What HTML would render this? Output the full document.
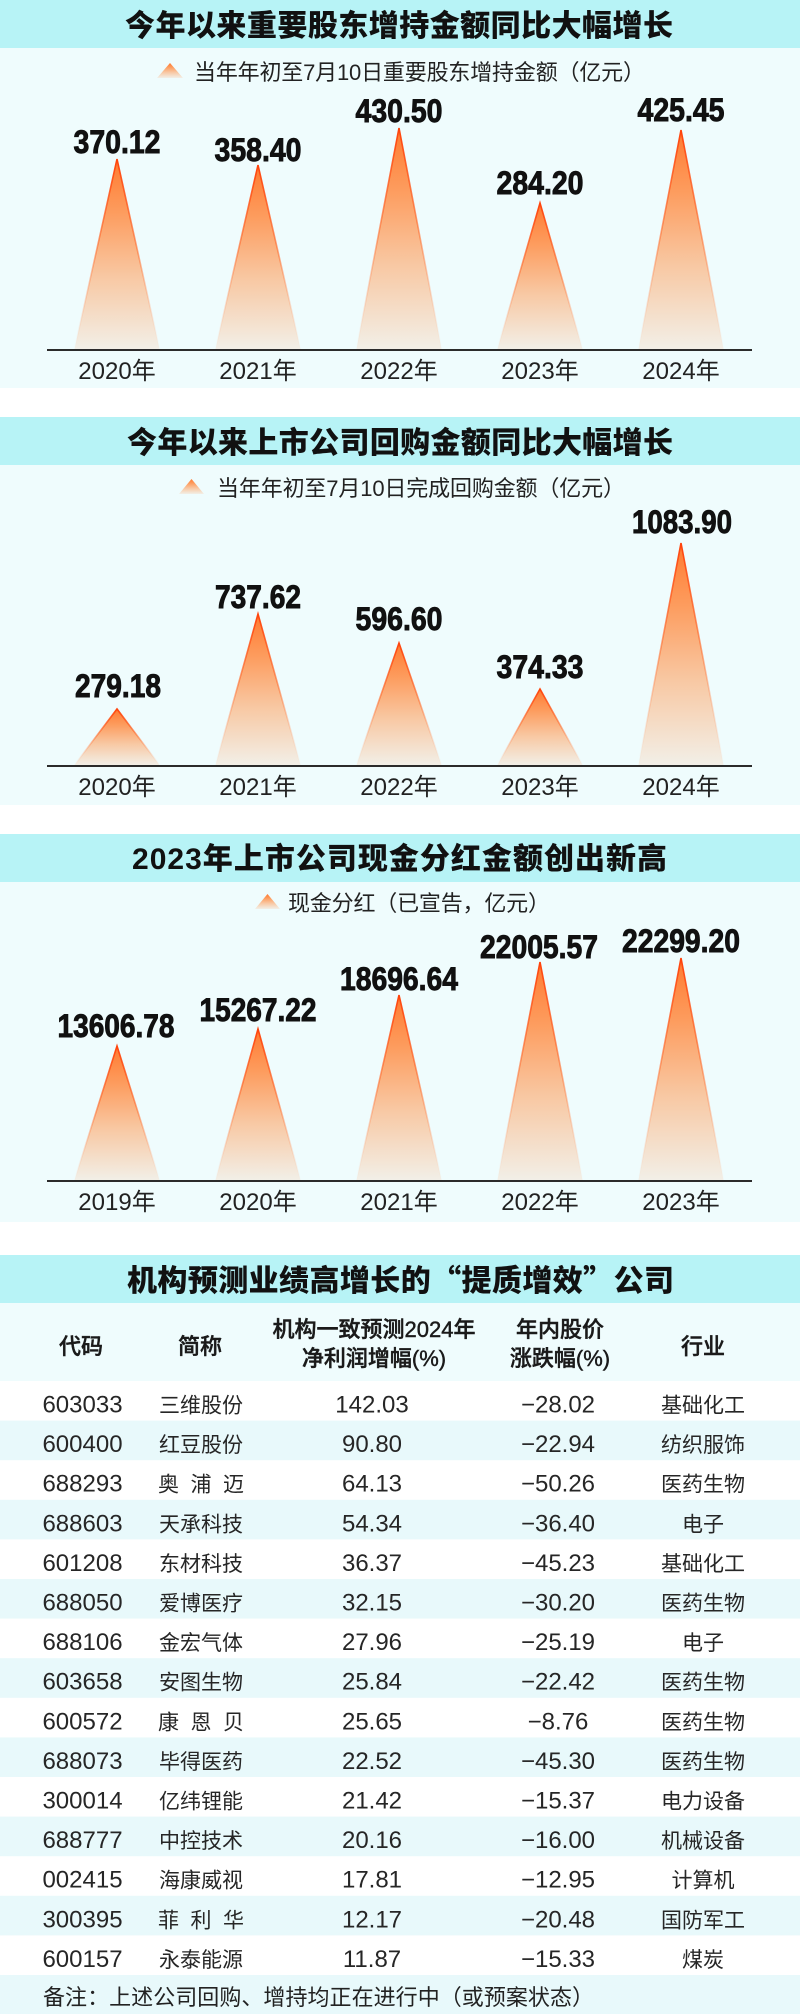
<!DOCTYPE html>
<html>
<head>
<meta charset="utf-8">
<style>
  html,body{margin:0;padding:0;background:#ffffff;}
  body{width:800px;height:2016px;overflow:hidden;}
  svg{display:block;}
  .ttl{font-family:"Liberation Sans","Noto Sans CJK SC",sans-serif;font-weight:900;font-size:30px;fill:#111;}
  .q{font-family:"Noto Sans CJK SC",sans-serif;}
  .lg{font-family:"Liberation Sans","Noto Sans CJK SC",sans-serif;font-size:22px;fill:#222;}
  .yr{font-family:"Liberation Sans","Noto Sans CJK SC",sans-serif;font-size:24px;fill:#222;}
  .val{font-family:"Liberation Sans Narrow","Liberation Sans",sans-serif;font-weight:bold;font-size:32px;fill:#111;stroke:#111;stroke-width:0.9px;}
  .hd{font-family:"Liberation Sans","Noto Sans CJK SC",sans-serif;font-size:22px;font-weight:500;fill:#1a1a1a;stroke:#1a1a1a;stroke-width:0.45px;}
  .num{font-family:"Liberation Sans",sans-serif;font-size:24px;fill:#262626;}
  .cj{font-family:"Liberation Sans","Noto Sans CJK SC",sans-serif;font-size:21px;fill:#262626;}
  .note{font-family:"Liberation Sans","Noto Sans CJK SC",sans-serif;font-size:22px;fill:#222;}
</style>
</head>
<body>
<svg width="800" height="2016" viewBox="0 0 800 2016" xmlns="http://www.w3.org/2000/svg">
  <defs>
    <linearGradient id="tf" x1="0" y1="0" x2="0" y2="1">
      <stop offset="0" stop-color="#ff7a30"/>
      <stop offset="0.28" stop-color="#fd9c5e"/>
      <stop offset="0.62" stop-color="#f8c8a3"/>
      <stop offset="1" stop-color="#f2efe7"/>
    </linearGradient>
    <linearGradient id="ts" x1="0" y1="0" x2="0" y2="1">
      <stop offset="0" stop-color="#ff420a" stop-opacity="1"/>
      <stop offset="0.5" stop-color="#ff6a2a" stop-opacity="0.55"/>
      <stop offset="1" stop-color="#ffb089" stop-opacity="0"/>
    </linearGradient>
  </defs>

  <!-- ============ Section 1 ============ -->
  <rect x="0" y="0" width="800" height="48" fill="#b7f3f6"/>
  <rect x="0" y="48" width="800" height="340" fill="#effcfd"/>
  <text class="ttl" x="399" y="36" text-anchor="middle" textLength="548" lengthAdjust="spacing">今年以来重要股东增持金额同比大幅增长</text>
  <polygon points="157,78 170,63 183,78" fill="url(#tf)"/>
  <text class="lg" x="194" y="80" textLength="451" lengthAdjust="spacing">当年年初至7月10日重要股东增持金额（亿元）</text>

  <g>
    <polygon points="74.5,349 117,159 159.5,349" fill="url(#tf)"/>
    <polyline points="74.5,349 117,159 159.5,349" fill="none" stroke="url(#ts)" stroke-width="1.6"/>
    <polygon points="215.5,349 258,165 300.5,349" fill="url(#tf)"/>
    <polyline points="215.5,349 258,165 300.5,349" fill="none" stroke="url(#ts)" stroke-width="1.6"/>
    <polygon points="356.5,349 399,128 441.5,349" fill="url(#tf)"/>
    <polyline points="356.5,349 399,128 441.5,349" fill="none" stroke="url(#ts)" stroke-width="1.6"/>
    <polygon points="497.5,349 540,203 582.5,349" fill="url(#tf)"/>
    <polyline points="497.5,349 540,203 582.5,349" fill="none" stroke="url(#ts)" stroke-width="1.6"/>
    <polygon points="638.5,349 681,130 723.5,349" fill="url(#tf)"/>
    <polyline points="638.5,349 681,130 723.5,349" fill="none" stroke="url(#ts)" stroke-width="1.6"/>
  </g>
  <line x1="47" y1="350" x2="752" y2="350" stroke="#2b2b2b" stroke-width="2"/>
  <text class="val" x="117" y="153" text-anchor="middle" textLength="87" lengthAdjust="spacingAndGlyphs">370.12</text>
  <text class="val" x="258" y="161" text-anchor="middle" textLength="87" lengthAdjust="spacingAndGlyphs">358.40</text>
  <text class="val" x="399" y="122" text-anchor="middle" textLength="87" lengthAdjust="spacingAndGlyphs">430.50</text>
  <text class="val" x="540" y="194" text-anchor="middle" textLength="87" lengthAdjust="spacingAndGlyphs">284.20</text>
  <text class="val" x="681" y="121" text-anchor="middle" textLength="87" lengthAdjust="spacingAndGlyphs">425.45</text>
  <text class="yr" x="117" y="379" text-anchor="middle">2020年</text>
  <text class="yr" x="258" y="379" text-anchor="middle">2021年</text>
  <text class="yr" x="399" y="379" text-anchor="middle">2022年</text>
  <text class="yr" x="540" y="379" text-anchor="middle">2023年</text>
  <text class="yr" x="681" y="379" text-anchor="middle">2024年</text>

  <!-- ============ Section 2 ============ -->
  <rect x="0" y="417" width="800" height="48" fill="#b7f3f6"/>
  <rect x="0" y="465" width="800" height="340" fill="#effcfd"/>
  <text class="ttl" x="400" y="453" text-anchor="middle" textLength="546" lengthAdjust="spacing">今年以来上市公司回购金额同比大幅增长</text>
  <polygon points="179,494 191.5,479 204,494" fill="url(#tf)"/>
  <text class="lg" x="217" y="496" textLength="408" lengthAdjust="spacing">当年年初至7月10日完成回购金额（亿元）</text>

  <g>
    <polygon points="74.5,765 117,709 159.5,765" fill="url(#tf)"/>
    <polyline points="74.5,765 117,709 159.5,765" fill="none" stroke="url(#ts)" stroke-width="1.6"/>
    <polygon points="215.5,765 258,614 300.5,765" fill="url(#tf)"/>
    <polyline points="215.5,765 258,614 300.5,765" fill="none" stroke="url(#ts)" stroke-width="1.6"/>
    <polygon points="356.5,765 399,643 441.5,765" fill="url(#tf)"/>
    <polyline points="356.5,765 399,643 441.5,765" fill="none" stroke="url(#ts)" stroke-width="1.6"/>
    <polygon points="497.5,765 540,689 582.5,765" fill="url(#tf)"/>
    <polyline points="497.5,765 540,689 582.5,765" fill="none" stroke="url(#ts)" stroke-width="1.6"/>
    <polygon points="638.5,765 681,543 723.5,765" fill="url(#tf)"/>
    <polyline points="638.5,765 681,543 723.5,765" fill="none" stroke="url(#ts)" stroke-width="1.6"/>
  </g>
  <line x1="47" y1="766" x2="752" y2="766" stroke="#2b2b2b" stroke-width="2"/>
  <text class="val" x="118" y="697" text-anchor="middle" textLength="86" lengthAdjust="spacingAndGlyphs">279.18</text>
  <text class="val" x="258" y="608" text-anchor="middle" textLength="86" lengthAdjust="spacingAndGlyphs">737.62</text>
  <text class="val" x="399" y="630" text-anchor="middle" textLength="87" lengthAdjust="spacingAndGlyphs">596.60</text>
  <text class="val" x="540" y="678" text-anchor="middle" textLength="87" lengthAdjust="spacingAndGlyphs">374.33</text>
  <text class="val" x="682" y="533" text-anchor="middle" textLength="100" lengthAdjust="spacingAndGlyphs">1083.90</text>
  <text class="yr" x="117" y="795" text-anchor="middle">2020年</text>
  <text class="yr" x="258" y="795" text-anchor="middle">2021年</text>
  <text class="yr" x="399" y="795" text-anchor="middle">2022年</text>
  <text class="yr" x="540" y="795" text-anchor="middle">2023年</text>
  <text class="yr" x="681" y="795" text-anchor="middle">2024年</text>

  <!-- ============ Section 3 ============ -->
  <rect x="0" y="834" width="800" height="48" fill="#b7f3f6"/>
  <rect x="0" y="882" width="800" height="340" fill="#effcfd"/>
  <text class="ttl" x="399.5" y="869" text-anchor="middle" textLength="535" lengthAdjust="spacing">2023年上市公司现金分红金额创出新高</text>
  <polygon points="255,909 267.5,894 280,909" fill="url(#tf)"/>
  <text class="lg" x="288" y="911" textLength="262" lengthAdjust="spacing">现金分红（已宣告，亿元）</text>

  <g>
    <polygon points="74.5,1180 117,1046 159.5,1180" fill="url(#tf)"/>
    <polyline points="74.5,1180 117,1046 159.5,1180" fill="none" stroke="url(#ts)" stroke-width="1.6"/>
    <polygon points="215.5,1180 258,1029 300.5,1180" fill="url(#tf)"/>
    <polyline points="215.5,1180 258,1029 300.5,1180" fill="none" stroke="url(#ts)" stroke-width="1.6"/>
    <polygon points="356.5,1180 399,995 441.5,1180" fill="url(#tf)"/>
    <polyline points="356.5,1180 399,995 441.5,1180" fill="none" stroke="url(#ts)" stroke-width="1.6"/>
    <polygon points="497.5,1180 540,962 582.5,1180" fill="url(#tf)"/>
    <polyline points="497.5,1180 540,962 582.5,1180" fill="none" stroke="url(#ts)" stroke-width="1.6"/>
    <polygon points="638.5,1180 681,958 723.5,1180" fill="url(#tf)"/>
    <polyline points="638.5,1180 681,958 723.5,1180" fill="none" stroke="url(#ts)" stroke-width="1.6"/>
  </g>
  <line x1="47" y1="1181" x2="752" y2="1181" stroke="#2b2b2b" stroke-width="2"/>
  <text class="val" x="116" y="1037" text-anchor="middle" textLength="117" lengthAdjust="spacingAndGlyphs">13606.78</text>
  <text class="val" x="258" y="1021" text-anchor="middle" textLength="117" lengthAdjust="spacingAndGlyphs">15267.22</text>
  <text class="val" x="399" y="990" text-anchor="middle" textLength="118" lengthAdjust="spacingAndGlyphs">18696.64</text>
  <text class="val" x="539" y="958" text-anchor="middle" textLength="118" lengthAdjust="spacingAndGlyphs">22005.57</text>
  <text class="val" x="681" y="952" text-anchor="middle" textLength="118" lengthAdjust="spacingAndGlyphs">22299.20</text>
  <text class="yr" x="117" y="1210" text-anchor="middle">2019年</text>
  <text class="yr" x="258" y="1210" text-anchor="middle">2020年</text>
  <text class="yr" x="399" y="1210" text-anchor="middle">2021年</text>
  <text class="yr" x="540" y="1210" text-anchor="middle">2022年</text>
  <text class="yr" x="681" y="1210" text-anchor="middle">2023年</text>

  <!-- ============ Section 4: table ============ -->
  <rect x="0" y="1255" width="800" height="48" fill="#b7f3f6"/>
  <rect x="0" y="1303" width="800" height="78" fill="#effcfd"/>
  <text class="ttl" x="400.5" y="1291" text-anchor="middle" textLength="547" lengthAdjust="spacing">机构预测业绩高增长的<tspan class="q">“</tspan>提质增效<tspan class="q">”</tspan>公司</text>

  <text class="hd" x="81" y="1354" text-anchor="middle">代码</text>
  <text class="hd" x="200" y="1354" text-anchor="middle">简称</text>
  <text class="hd" x="374" y="1337" text-anchor="middle">机构一致预测2024年</text>
  <text class="hd" x="374" y="1366" text-anchor="middle">净利润增幅(%)</text>
  <text class="hd" x="560" y="1337" text-anchor="middle">年内股价</text>
  <text class="hd" x="560" y="1366" text-anchor="middle">涨跌幅(%)</text>
  <text class="hd" x="703" y="1354" text-anchor="middle">行业</text>

  <!-- tinted rows -->
  <rect x="0" y="1420.6" width="800" height="39.6" fill="#e8f9fb"/>
  <rect x="0" y="1499.8" width="800" height="39.6" fill="#e8f9fb"/>
  <rect x="0" y="1579" width="800" height="39.6" fill="#e8f9fb"/>
  <rect x="0" y="1658.2" width="800" height="39.6" fill="#e8f9fb"/>
  <rect x="0" y="1737.4" width="800" height="39.6" fill="#e8f9fb"/>
  <rect x="0" y="1816.6" width="800" height="39.6" fill="#e8f9fb"/>
  <rect x="0" y="1895.8" width="800" height="39.6" fill="#e8f9fb"/>
  <rect x="0" y="1975" width="800" height="39" fill="#e8f9fb"/>

  <g>
    <text class="num" x="82.5" y="1412.5" text-anchor="middle">603033</text>
    <text class="cj" x="201" y="1412.5" text-anchor="middle">三维股份</text>
    <text class="num" x="372" y="1412.5" text-anchor="middle">142.03</text>
    <text class="num" x="558" y="1412.5" text-anchor="middle">−28.02</text>
    <text class="cj" x="703" y="1412.5" text-anchor="middle">基础化工</text>

    <text class="num" x="82.5" y="1452.1" text-anchor="middle">600400</text>
    <text class="cj" x="201" y="1452.1" text-anchor="middle">红豆股份</text>
    <text class="num" x="372" y="1452.1" text-anchor="middle">90.80</text>
    <text class="num" x="558" y="1452.1" text-anchor="middle">−22.94</text>
    <text class="cj" x="703" y="1452.1" text-anchor="middle">纺织服饰</text>

    <text class="num" x="82.5" y="1491.7" text-anchor="middle">688293</text>
    <text class="cj" x="168.5 201 233.5" y="1491.7" text-anchor="middle">奥浦迈</text>
    <text class="num" x="372" y="1491.7" text-anchor="middle">64.13</text>
    <text class="num" x="558" y="1491.7" text-anchor="middle">−50.26</text>
    <text class="cj" x="703" y="1491.7" text-anchor="middle">医药生物</text>

    <text class="num" x="82.5" y="1531.3" text-anchor="middle">688603</text>
    <text class="cj" x="201" y="1531.3" text-anchor="middle">天承科技</text>
    <text class="num" x="372" y="1531.3" text-anchor="middle">54.34</text>
    <text class="num" x="558" y="1531.3" text-anchor="middle">−36.40</text>
    <text class="cj" x="703" y="1531.3" text-anchor="middle">电子</text>

    <text class="num" x="82.5" y="1570.9" text-anchor="middle">601208</text>
    <text class="cj" x="201" y="1570.9" text-anchor="middle">东材科技</text>
    <text class="num" x="372" y="1570.9" text-anchor="middle">36.37</text>
    <text class="num" x="558" y="1570.9" text-anchor="middle">−45.23</text>
    <text class="cj" x="703" y="1570.9" text-anchor="middle">基础化工</text>

    <text class="num" x="82.5" y="1610.5" text-anchor="middle">688050</text>
    <text class="cj" x="201" y="1610.5" text-anchor="middle">爱博医疗</text>
    <text class="num" x="372" y="1610.5" text-anchor="middle">32.15</text>
    <text class="num" x="558" y="1610.5" text-anchor="middle">−30.20</text>
    <text class="cj" x="703" y="1610.5" text-anchor="middle">医药生物</text>

    <text class="num" x="82.5" y="1650.1" text-anchor="middle">688106</text>
    <text class="cj" x="201" y="1650.1" text-anchor="middle">金宏气体</text>
    <text class="num" x="372" y="1650.1" text-anchor="middle">27.96</text>
    <text class="num" x="558" y="1650.1" text-anchor="middle">−25.19</text>
    <text class="cj" x="703" y="1650.1" text-anchor="middle">电子</text>

    <text class="num" x="82.5" y="1689.7" text-anchor="middle">603658</text>
    <text class="cj" x="201" y="1689.7" text-anchor="middle">安图生物</text>
    <text class="num" x="372" y="1689.7" text-anchor="middle">25.84</text>
    <text class="num" x="558" y="1689.7" text-anchor="middle">−22.42</text>
    <text class="cj" x="703" y="1689.7" text-anchor="middle">医药生物</text>

    <text class="num" x="82.5" y="1729.3" text-anchor="middle">600572</text>
    <text class="cj" x="168.5 201 233.5" y="1729.3" text-anchor="middle">康恩贝</text>
    <text class="num" x="372" y="1729.3" text-anchor="middle">25.65</text>
    <text class="num" x="558" y="1729.3" text-anchor="middle">−8.76</text>
    <text class="cj" x="703" y="1729.3" text-anchor="middle">医药生物</text>

    <text class="num" x="82.5" y="1768.9" text-anchor="middle">688073</text>
    <text class="cj" x="201" y="1768.9" text-anchor="middle">毕得医药</text>
    <text class="num" x="372" y="1768.9" text-anchor="middle">22.52</text>
    <text class="num" x="558" y="1768.9" text-anchor="middle">−45.30</text>
    <text class="cj" x="703" y="1768.9" text-anchor="middle">医药生物</text>

    <text class="num" x="82.5" y="1808.5" text-anchor="middle">300014</text>
    <text class="cj" x="201" y="1808.5" text-anchor="middle">亿纬锂能</text>
    <text class="num" x="372" y="1808.5" text-anchor="middle">21.42</text>
    <text class="num" x="558" y="1808.5" text-anchor="middle">−15.37</text>
    <text class="cj" x="703" y="1808.5" text-anchor="middle">电力设备</text>

    <text class="num" x="82.5" y="1848.1" text-anchor="middle">688777</text>
    <text class="cj" x="201" y="1848.1" text-anchor="middle">中控技术</text>
    <text class="num" x="372" y="1848.1" text-anchor="middle">20.16</text>
    <text class="num" x="558" y="1848.1" text-anchor="middle">−16.00</text>
    <text class="cj" x="703" y="1848.1" text-anchor="middle">机械设备</text>

    <text class="num" x="82.5" y="1887.7" text-anchor="middle">002415</text>
    <text class="cj" x="201" y="1887.7" text-anchor="middle">海康威视</text>
    <text class="num" x="372" y="1887.7" text-anchor="middle">17.81</text>
    <text class="num" x="558" y="1887.7" text-anchor="middle">−12.95</text>
    <text class="cj" x="703" y="1887.7" text-anchor="middle">计算机</text>

    <text class="num" x="82.5" y="1927.3" text-anchor="middle">300395</text>
    <text class="cj" x="168.5 201 233.5" y="1927.3" text-anchor="middle">菲利华</text>
    <text class="num" x="372" y="1927.3" text-anchor="middle">12.17</text>
    <text class="num" x="558" y="1927.3" text-anchor="middle">−20.48</text>
    <text class="cj" x="703" y="1927.3" text-anchor="middle">国防军工</text>

    <text class="num" x="82.5" y="1966.9" text-anchor="middle">600157</text>
    <text class="cj" x="201" y="1966.9" text-anchor="middle">永泰能源</text>
    <text class="num" x="372" y="1966.9" text-anchor="middle">11.87</text>
    <text class="num" x="558" y="1966.9" text-anchor="middle">−15.33</text>
    <text class="cj" x="703" y="1966.9" text-anchor="middle">煤炭</text>
  </g>

  <text class="note" x="43" y="2005" textLength="551" lengthAdjust="spacing">备注：上述公司回购、增持均正在进行中（或预案状态）</text>
</svg>
</body>
</html>
